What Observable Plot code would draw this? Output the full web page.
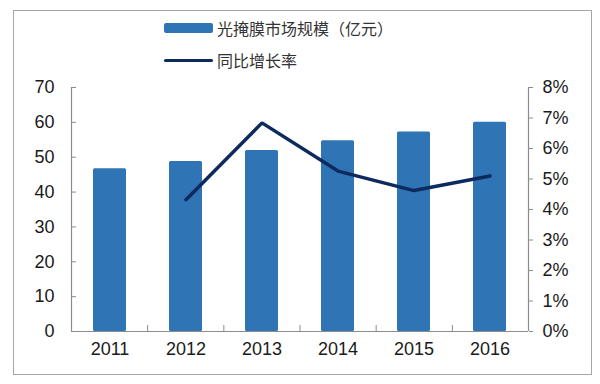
<!DOCTYPE html>
<html>
<head>
<meta charset="utf-8">
<script src="https://cdn.jsdelivr.net/npm/d3@7"></script>
<script src="https://cdn.jsdelivr.net/npm/@observablehq/plot@0.6"></script>
<style>
  html, body { margin: 0; padding: 0; background: #fff; }
  #wrap { position: relative; width: 600px; height: 384px; overflow: hidden; background: #fff; }
  #frame { position: absolute; left: 13px; top: 10px; width: 579px; height: 365px; border: 1px solid #a6a6a6; box-sizing: border-box; }
  .layer { position: absolute; left: 0; top: 0; }
  .legend { position: absolute; left: 164px; font-family: "Noto Sans CJK SC", sans-serif; font-size: 16px; color: #333; display: flex; align-items: center; }
  .sw-bar { width: 49px; height: 10px; background: #2f75b5; border-radius: 2px; margin-right: 4px; }
  .sw-line { width: 49px; height: 3px; background: #0c2a5e; border-radius: 2px; margin-right: 4px; }
</style>
</head>
<body>
<div id="wrap">
  <div id="frame"></div>
  <div class="legend" style="top:16px;"><div class="sw-bar"></div><span>光掩膜市场规模（亿元）</span></div>
  <div class="legend" style="top:48px;"><div class="sw-line"></div><span>同比增长率</span></div>
</div>
<script>
const years = ["2011", "2012", "2013", "2014", "2015", "2016"];
const marketSize = [46.7, 48.8, 51.9, 54.7, 57.2, 60.0];
const growthYears = ["2012", "2013", "2014", "2015", "2016"];
const growthRate = [4.32, 6.84, 5.26, 4.62, 5.10];
const leftTicks = [0, 10, 20, 30, 40, 50, 60, 70];
const rightTicks = [0, 1, 2, 3, 4, 5, 6, 7, 8];

const W = 600, H = 384;
const M = { top: 87, right: 72, bottom: 53, left: 71 };
const font = "'Liberation Sans', Arial, sans-serif";
const axisGray = "#8c8c8c";

const bars = years.map((y, i) => ({ year: y, value: marketSize[i] }));
const growth = growthYears.map((y, i) => ({ year: y, rate: growthRate[i] }));

const common = {
  width: W, height: H,
  marginTop: M.top, marginRight: M.right, marginBottom: M.bottom, marginLeft: M.left,
  style: { fontFamily: font, fontSize: "18px", color: "#1a1a1a", background: "transparent", overflow: "visible" }
};

// Layer 1: bars + left axis labels + x labels
const p1 = Plot.plot({
  ...common,
  x: { type: "band", domain: years, paddingInner: 0.56, paddingOuter: 0.28 },
  y: { domain: [0, 70] },
  marks: [
    Plot.barY(bars, { x: "year", y: "value", fill: "#2f75b5", rx: 1.5 }),
    Plot.axisY({ ticks: leftTicks, tickSize: 0, tickPadding: 17, label: null, fill: "#1a1a1a" }),
    Plot.axisX({ tickSize: 0, tickPadding: 11, label: null, fill: "#1a1a1a" })
  ]
});

// Layer 2: growth line + right axis labels
const p2 = Plot.plot({
  ...common,
  x: { type: "band", domain: years, paddingInner: 0.56, paddingOuter: 0.28, axis: null },
  y: { domain: [0, 8] },
  marks: [
    Plot.line(growth, { x: "year", y: "rate", stroke: "#0c2a5e", strokeWidth: 3.5, strokeLinejoin: "miter", strokeLinecap: "round" }),
    Plot.axisY({ anchor: "right", ticks: rightTicks, tickSize: 4, tickPadding: 10, tickFormat: d => d + "%", label: null, stroke: axisGray, fill: "#1a1a1a" })
  ]
});

// Layer 3: axis lines and tick marks
const p3 = Plot.plot({
  ...common,
  x: { domain: [0, years.length], axis: null },
  y: { domain: [0, 70], axis: null },
  marks: [
    Plot.ruleX([0, years.length], { stroke: axisGray, strokeWidth: 1.2 }),
    Plot.ruleY([0], { stroke: axisGray, strokeWidth: 1.2 }),
    Plot.axisY({ ticks: leftTicks, tickSize: -5, text: null, label: null, stroke: axisGray }),
    Plot.axisX({ ticks: d3.range(0, years.length + 1), tickSize: -6, text: null, label: null, stroke: axisGray })
  ]
});

const wrap = document.getElementById("wrap");
[p1, p2, p3].forEach(p => { p.classList.add("layer"); p.style.position = "absolute"; p.style.left = "0"; p.style.top = "0"; wrap.appendChild(p); });
</script>
</body>
</html>
